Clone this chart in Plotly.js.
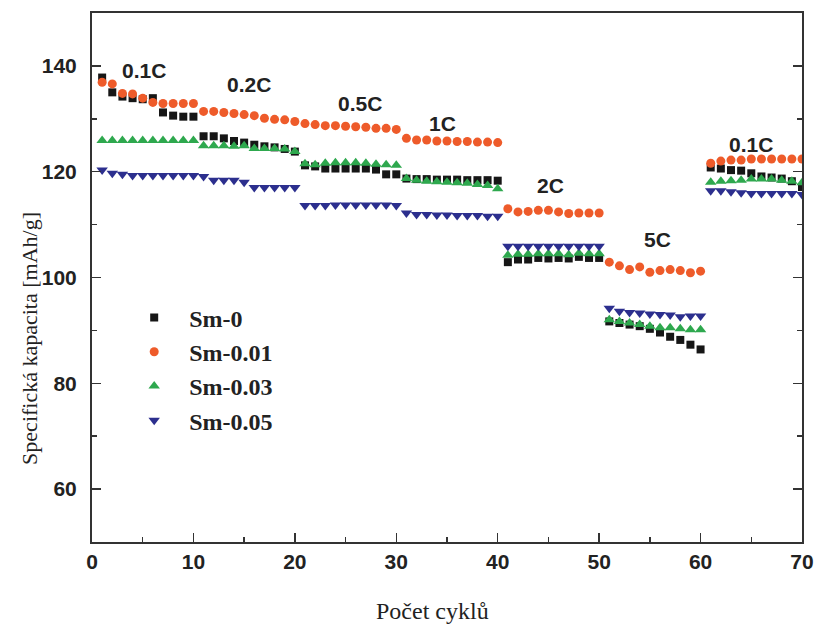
<!DOCTYPE html>
<html>
<head>
<meta charset="utf-8">
<script src="https://cdn.plot.ly/plotly-3.0.1.min.js"></script>
<style>
  html, body { margin: 0; padding: 0; background: #fff; }
  #chart { width: 820px; height: 628px; }
</style>
</head>
<body>
<div id="chart"></div>
<script>
// Rate capability: specific capacity per cycle for four Sm doping levels
const cycles = Array.from({length: 70}, (_, i) => i + 1);

const sm0 = [
  137.8, 135.0, 134.2, 133.9, 133.7, 133.9, 131.2, 130.6, 130.4, 130.4,
  126.7, 126.7, 126.3, 125.8, 125.5, 125.1, 124.8, 124.6, 124.3, 123.8,
  121.2, 121.0, 120.6, 120.6, 120.6, 120.6, 120.6, 120.4, 119.5, 119.5,
  118.7, 118.6, 118.6, 118.5, 118.5, 118.5, 118.4, 118.4, 118.4, 118.3,
  102.9, 103.4, 103.4, 103.7, 103.6, 103.7, 103.6, 103.9, 103.7, 103.7,
  91.7, 91.4, 91.1, 90.8, 90.3, 89.6, 88.8, 88.2, 87.3, 86.4,
  120.8, 120.6, 120.3, 120.2, 119.7, 119.1, 118.9, 118.7, 118.2, 117.1
];
const sm001 = [
  136.9, 136.6, 134.8, 134.7, 133.9, 133.1, 132.9, 132.9, 132.9, 132.9,
  131.4, 131.4, 131.2, 131.0, 130.8, 130.6, 130.1, 129.9, 129.8, 129.5,
  129.1, 128.9, 128.7, 128.7, 128.6, 128.5, 128.4, 128.2, 128.2, 128.0,
  126.3, 126.0, 126.0, 125.8, 125.8, 125.7, 125.7, 125.6, 125.6, 125.5,
  113.0, 112.4, 112.5, 112.7, 112.7, 112.4, 112.1, 112.2, 112.2, 112.2,
  102.9, 102.2, 101.5, 102.0, 101.0, 101.3, 101.5, 101.3, 100.9, 101.2,
  121.6, 122.0, 122.2, 122.2, 122.4, 122.4, 122.4, 122.4, 122.4, 122.4
];
const sm003 = [
  125.9, 125.9, 125.9, 125.9, 125.9, 125.9, 125.9, 125.9, 125.9, 125.9,
  124.9, 124.9, 124.9, 124.8, 124.9, 124.4, 124.4, 124.4, 124.3, 123.8,
  121.5, 121.3, 121.6, 121.7, 121.7, 121.7, 121.6, 121.4, 121.3, 121.2,
  118.7, 118.4, 118.2, 118.1, 118.0, 117.9, 117.8, 117.6, 117.4, 116.8,
  104.2, 104.4, 104.4, 104.5, 104.5, 104.5, 104.3, 104.6, 104.5, 104.5,
  92.0, 91.7, 91.4, 91.1, 90.8, 90.5, 90.5, 90.3, 90.1, 90.1,
  118.0, 118.2, 118.3, 118.4, 118.6, 118.6, 118.6, 118.4, 118.2, 117.9
];
const sm005 = [
  120.3, 119.7, 119.5, 119.3, 119.3, 119.3, 119.3, 119.3, 119.3, 119.3,
  119.1, 118.4, 118.4, 118.4, 118.0, 117.0, 117.0, 117.0, 117.0, 117.0,
  113.6, 113.6, 113.6, 113.7, 113.7, 113.7, 113.7, 113.7, 113.7, 113.6,
  112.2, 111.9, 111.9, 111.8, 111.8, 111.7, 111.7, 111.7, 111.6, 111.6,
  105.9, 105.9, 105.9, 105.9, 105.9, 105.9, 105.9, 105.9, 105.9, 105.9,
  94.2, 93.6, 93.4, 93.3, 93.1, 93.0, 92.9, 92.6, 92.7, 92.7,
  116.4, 116.4, 116.2, 116.0, 115.9, 115.9, 115.9, 115.9, 115.9, 115.7
];

const seriesNames = ['Sm-0', 'Sm-0.01', 'Sm-0.03', 'Sm-0.05'];

// C-rate labels and where they sit (cycle, capacity)
const rateLabels = ['0.1C', '0.2C', '0.5C', '1C', '2C', '5C', '0.1C'];
const rateX = [5.1, 15.5, 26.4, 34.6, 45.2, 55.8, 65.0];
const rateY = [139.2, 136.4, 132.9, 129.1, 117.3, 107.1, 125.1];

const styles = [
  {symbol: 'square', color: '#161616', size: 8},
  {symbol: 'circle', color: '#EE5B2A', size: 9},
  {symbol: 'triangle-up', color: '#2EA84E', size: 10},
  {symbol: 'triangle-down', color: '#2C2F8E', size: 10}
];

const values = [sm0, sm001, sm003, sm005];
const traces = values.map((v, i) => ({
  x: cycles,
  y: v,
  name: seriesNames[i],
  type: 'scatter',
  mode: 'markers',
  marker: {symbol: styles[i].symbol, color: styles[i].color, size: styles[i].size, line: {width: 0}}
}));

const tickFont = {family: 'Liberation Sans, Arial, sans-serif', size: 21, color: '#222', weight: 'bold'};
const serif = 'Liberation Serif, Times New Roman, serif';

const annotations = rateLabels.map((t, i) => ({
  x: rateX[i], y: rateY[i], xref: 'x', yref: 'y',
  text: '<b>' + t + '</b>', showarrow: false,
  font: {family: 'Liberation Sans, Arial, sans-serif', size: 21, color: '#222'}
}));

annotations.push({
  xref: 'paper', yref: 'paper', x: -0.0873, y: 0.384,
  xanchor: 'center', yanchor: 'middle', textangle: -90,
  text: 'Specifická kapacita [mAh/g]', showarrow: false,
  font: {family: serif, size: 22, color: '#222'}
});
annotations.push({
  xref: 'paper', yref: 'paper', x: 0.479, y: -0.130,
  xanchor: 'center', yanchor: 'middle',
  text: 'Počet cyklů', showarrow: false,
  font: {family: serif, size: 24, color: '#222'}
});

const layout = {
  width: 820, height: 628,
  margin: {l: 92, r: 18, t: 13, b: 86},
  paper_bgcolor: '#fff', plot_bgcolor: '#fff',
  showlegend: true,
  legend: {
    x: 0.0383, y: 0.466, xanchor: 'left', yanchor: 'top',
    bgcolor: 'rgba(0,0,0,0)',
    itemwidth: 60,
    font: {family: serif, size: 24, color: '#222', weight: 'bold'}
  },
  xaxis: {
    range: [0, 70], dtick: 10, tick0: 0,
    showgrid: false, zeroline: false,
    showline: true, linecolor: '#333', linewidth: 2, mirror: true,
    ticks: 'inside', ticklen: 9, tickwidth: 1.5, tickcolor: '#333',
    minor: {dtick: 5, ticks: 'inside', ticklen: 5, tickwidth: 1.5, tickcolor: '#333'},
    tickfont: tickFont, ticklabelstandoff: 0
  },
  yaxis: {
    range: [50, 150], dtick: 20, tick0: 0,
    showgrid: false, zeroline: false,
    showline: true, linecolor: '#333', linewidth: 2, mirror: 'ticks',
    ticks: 'inside', ticklen: 9, tickwidth: 1.5, tickcolor: '#333',
    minor: {dtick: 10, ticks: 'inside', ticklen: 5, tickwidth: 1.5, tickcolor: '#333'},
    tickfont: tickFont, ticklabelstandoff: 9
  },
  annotations: annotations
};

Plotly.newPlot('chart', traces, layout, {displayModeBar: false, staticPlot: true});
</script>
</body>
</html>
